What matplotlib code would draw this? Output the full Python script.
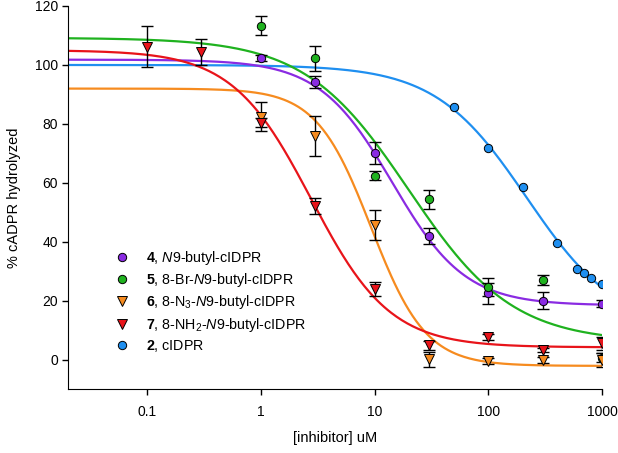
import numpy as np
import matplotlib.pyplot as plt
from matplotlib.lines import Line2D

plt.rcParams['font.family'] = 'Liberation Sans'
plt.rcParams['mathtext.fontset'] = 'custom'
plt.rcParams['mathtext.rm'] = 'Liberation Sans'
plt.rcParams['mathtext.it'] = 'Liberation Sans:italic'
plt.rcParams['mathtext.bf'] = 'Liberation Sans:bold'

# concentrations (uM)
conc = [1, 3, 10, 30, 100, 300, 1000]
conc_red = [0.1, 0.3, 1, 3, 10, 30, 100, 300, 1000]
conc_blue = [50, 100, 200, 400, 600, 700, 800, 1000]

# % cADPR hydrolyzed (mean, error)
purple = [102.3, 94.3, 70.3, 42.0, 22.6, 20.1, 19.0]
purple_err = [1.0, 2.1, 3.7, 2.8, 3.5, 2.8, 1.2]
green = [113.3, 102.3, 62.5, 54.5, 24.8, 27.1, 0.8]
green_err = [3.3, 4.2, 1.5, 3.2, 3.0, 1.8, 1.5]
orange = [82.5, 75.9, 45.8, 0.2, -0.2, 0.0, 0.0]
orange_err = [5.0, 6.8, 5.0, 2.5, 1.0, 1.0, 2.5]
red = [106.2, 104.5, 80.5, 52.2, 24.0, 5.0, 7.7, 3.4, 5.6]
red_err = [7.0, 4.4, 1.5, 2.8, 2.3, 1.5, 1.0, 0.8, 2.3]
blue = [85.6, 72.0, 58.8, 39.7, 30.8, 29.5, 27.8, 25.8]

# fitted 4-parameter logistic curves: top, bottom, IC50, hill
fit_purple = [101.8, 18.5, 14.3, 1.35]
fit_green = [109.2, 6.0, 20.0, 0.95]
fit_orange = [92.0, -2.0, 9.3, 1.8]
fit_red = [105.0, 4.3, 2.76, 1.25]
fit_blue = [100.0, 10.0, 218.0, 1.08]

labels = [r'$\mathbf{4}$, $\mathit{N}$9-butyl-cIDPR',
          r'$\mathbf{5}$, 8-Br-$\mathit{N}$9-butyl-cIDPR',
          r'$\mathbf{6}$, 8-N$_3$-$\mathit{N}$9-butyl-cIDPR',
          r'$\mathbf{7}$, 8-NH$_2$-$\mathit{N}$9-butyl-cIDPR',
          r'$\mathbf{2}$, cIDPR']

c_purple = '#8a2be2'
c_green = '#1fb21f'
c_orange = '#f68b1f'
c_red = '#e8141a'
c_blue = '#1f8ff0'


def logistic(x, p):
    top, bottom, ic50, hill = p
    return bottom + (top - bottom) / (1 + (x / ic50) ** hill)


fig = plt.figure(figsize=(6.18, 4.53), dpi=100)
ax = fig.add_axes([0.1097, 0.1402, 0.8644, 0.8466])

xs = np.logspace(np.log10(0.02), 3, 300)
for p, c in [(fit_blue, c_blue), (fit_orange, c_orange), (fit_purple, c_purple),
             (fit_green, c_green), (fit_red, c_red)]:
    ax.plot(xs, logistic(xs, p), color=c, lw=1.6, zorder=2)

series = [(conc, purple, purple_err, c_purple, 'o'),
          (conc, green, green_err, c_green, 'o'),
          (conc, orange, orange_err, c_orange, 'v'),
          (conc_red, red, red_err, c_red, 'v')]
for x, y, e, c, m in series:
    ax.errorbar(x, y, yerr=e, fmt='none', ecolor='black', elinewidth=1,
                capsize=4, capthick=1, zorder=3)
    ax.plot(x, y, ls='none', marker=m, ms=6 if m == 'o' else 7, mfc=c,
            mec='black', mew=0.7, zorder=4)
ax.plot(conc_blue, blue, ls='none', marker='o', ms=6, mfc=c_blue,
        mec='black', mew=0.7, zorder=4)

handles = [Line2D([], [], ls='none', marker=m, ms=6 if m == 'o' else 7, mfc=c,
                  mec='black', mew=0.7)
           for c, m in [(c_purple, 'o'), (c_green, 'o'), (c_orange, 'v'),
                        (c_red, 'v'), (c_blue, 'o')]]
ax.legend(handles, labels, loc='upper left', bbox_to_anchor=(0.0878, 0.367),
          frameon=False, fontsize=10.3, borderpad=0, borderaxespad=0,
          handlelength=1.0, handletextpad=1.2, labelspacing=0.3)

ax.set_xscale('log')
ax.set_xlim(0.02, 1000)
ax.set_ylim(-10, 120)
ax.set_xticks([0.1, 1, 10, 100, 1000])
ax.set_xticklabels(['0.1', '1', '10', '100', '1000'])
ax.minorticks_off()
ax.set_yticks([0, 20, 40, 60, 80, 100, 120])
ax.spines['top'].set_visible(False)
ax.spines['right'].set_visible(False)
ax.tick_params(direction='out', length=4, width=1, labelsize=10)
ax.tick_params(axis='x', pad=7)
ax.tick_params(axis='y', pad=3)
ax.set_xlabel('[inhibitor] uM', fontsize=10.5, labelpad=9)
ax.set_ylabel('% cADPR hydrolyzed', fontsize=10.5, labelpad=10)

fig.savefig('out.png', dpi=100)
